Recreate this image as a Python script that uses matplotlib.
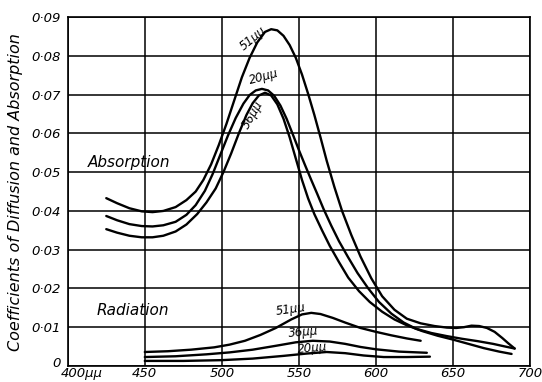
import numpy as np
import matplotlib
matplotlib.use("Agg")
import matplotlib.pyplot as plt
import matplotlib.transforms as mtransforms

# absorption curves (wavelength in mu-mu, coefficient)
abs51_x = [425, 432, 440, 448, 455, 462, 470, 477, 483, 488, 493, 498, 503, 508, 513, 518,
           523, 528, 532, 536, 540, 544, 548, 552, 556, 560, 564, 568, 573, 578, 584, 590,
           597, 604, 612, 620, 629, 638, 646, 652, 657, 662, 667, 672, 677, 682, 686, 690]
abs51_y = [0.0433, 0.0420, 0.0407, 0.0399, 0.0397, 0.0400, 0.0410, 0.0428, 0.0450, 0.0480,
           0.0520, 0.0570, 0.0625, 0.0685, 0.0745, 0.0795, 0.0835, 0.0862, 0.0869, 0.0866,
           0.0852, 0.0828, 0.0795, 0.0752, 0.0702, 0.0648, 0.0590, 0.0530, 0.0462, 0.0400,
           0.0338, 0.0282, 0.0226, 0.0180, 0.0145, 0.0122, 0.0110, 0.0103, 0.0099, 0.0098,
           0.0100, 0.0104, 0.0103, 0.0098, 0.0088, 0.0072, 0.0058, 0.0045]

abs20_x = [425, 432, 440, 448, 455, 462, 470, 477, 483, 489, 494, 499, 504, 509, 514, 518,
           522, 526, 530, 534, 538, 542, 546, 550, 554, 558, 562, 566, 571, 576, 582, 588,
           595, 602, 610, 618, 626, 636, 646, 656, 666, 676, 684, 690]
abs20_y = [0.0387, 0.0376, 0.0366, 0.0361, 0.0360, 0.0363, 0.0372, 0.0390, 0.0415, 0.0452,
           0.0495, 0.0545, 0.0595, 0.0640, 0.0677, 0.0699, 0.0711, 0.0715, 0.0711, 0.0697,
           0.0672, 0.0638, 0.0598, 0.0557, 0.0518, 0.0480, 0.0443, 0.0405, 0.0362, 0.0322,
           0.0280, 0.0240, 0.0200, 0.0165, 0.0135, 0.0112, 0.0096, 0.0085, 0.0077, 0.0070,
           0.0064, 0.0057, 0.0050, 0.0045]

abs36_x = [425, 432, 440, 448, 455, 462, 470, 477, 484, 490, 496, 501, 506, 511, 516, 520,
           524, 528, 532, 536, 540, 544, 548, 552, 556, 560, 565, 570, 576, 582, 589, 596,
           604, 612, 620, 630, 640, 650, 660, 670, 680, 688]
abs36_y = [0.0353, 0.0344, 0.0336, 0.0332, 0.0332, 0.0336, 0.0347, 0.0365, 0.0392, 0.0422,
           0.0458, 0.0500, 0.0548, 0.0600, 0.0648, 0.0678, 0.0698, 0.0705, 0.0698, 0.0675,
           0.0638, 0.0590, 0.0535, 0.0480, 0.0432, 0.0392, 0.0350, 0.0310, 0.0268, 0.0228,
           0.0193, 0.0165, 0.0140, 0.0120, 0.0105, 0.0090, 0.0078, 0.0068, 0.0057, 0.0046,
           0.0037, 0.0031]

# radiation curves
rad51_x = [450, 465, 480, 495, 505, 515, 525, 535, 545, 552, 558, 564, 572, 580, 590, 600,
           610, 620, 629]
rad51_y = [0.0036, 0.0038, 0.0042, 0.0048, 0.0055, 0.0065, 0.0080, 0.0098, 0.0120, 0.0133,
           0.0137, 0.0134, 0.0124, 0.0112, 0.0098, 0.0088, 0.0079, 0.0071, 0.0065]
rad36_x = [450, 470, 490, 505, 520, 535, 548, 559, 570, 580, 590, 600, 615, 633]
rad36_y = [0.0023, 0.0025, 0.0030, 0.0035, 0.0042, 0.0052, 0.0061, 0.0065, 0.0063, 0.0057,
           0.0049, 0.0043, 0.0037, 0.0034]
rad20_x = [450, 475, 500, 520, 540, 555, 568, 580, 592, 605, 620, 635]
rad20_y = [0.0013, 0.0013, 0.0015, 0.0019, 0.0026, 0.0032, 0.0036, 0.0033, 0.0027, 0.0023,
           0.0023, 0.0024]

x_ticks = [400, 450, 500, 550, 600, 650, 700]
x_labels = ["400\u03bc\u03bc", "450", "500", "550", "600", "650", "700"]
y_ticks = [0, 0.01, 0.02, 0.03, 0.04, 0.05, 0.06, 0.07, 0.08, 0.09]
y_labels = ["0"] + ["0\u00b70%d" % i for i in range(1, 10)]

fig = plt.figure(figsize=(5.42, 3.82), dpi=100)
ax = fig.add_axes([0.125, 0.042, 0.853, 0.913])

lw = 1.7
for xs, ys in [(abs51_x, abs51_y), (abs20_x, abs20_y), (abs36_x, abs36_y),
               (rad51_x, rad51_y), (rad36_x, rad36_y), (rad20_x, rad20_y)]:
    ax.plot(xs, ys, color="black", lw=lw, solid_capstyle="round", solid_joinstyle="round")

ax.set_xlim(400, 700)
ax.set_ylim(0, 0.09)
ax.set_xticks(x_ticks)
ax.set_xticklabels(x_labels, style="italic", fontsize=9.5)
ax.set_yticks(y_ticks)
ax.set_yticklabels(y_labels, style="italic", fontsize=9.5)
ax.tick_params(axis="x", length=0, pad=1)
ax.tick_params(axis="y", length=0, pad=5)
ax.grid(True, color="black", lw=1.1)
for s in ax.spines.values():
    s.set_linewidth(1.2)

# the first x label sits a little right of its grid line, the "0" a little higher
first = ax.get_xticklabels()[0]
first.set_transform(first.get_transform() +
                    mtransforms.ScaledTranslation(0.14, 0, fig.dpi_scale_trans))
zero = ax.get_yticklabels()[0]
zero.set_transform(zero.get_transform() +
                   mtransforms.ScaledTranslation(0, 0.04, fig.dpi_scale_trans))

ax.set_ylabel("Coefficients of Diffusion and Absorption", style="italic", fontsize=11.5,
              labelpad=6)

# curve labels
txt = dict(style="italic", fontsize=8.5, ha="center", va="center")
ax.text(520, 0.0845, "51\u03bc\u03bc", rotation=40, **txt)
ax.text(527, 0.0745, "20\u03bc\u03bc", rotation=15, **txt)
ax.text(520, 0.0648, "36\u03bc\u03bc", rotation=60, **txt)
ax.text(545, 0.0146, "51\u03bc\u03bc", rotation=8, **txt)
ax.text(553, 0.0086, "36\u03bc\u03bc", rotation=5, **txt)
ax.text(559, 0.0045, "20\u03bc\u03bc", rotation=5, **txt)

ax.text(440, 0.0525, "Absorption", style="italic", fontsize=11, ha="center", va="center")
ax.text(442, 0.0142, "Radiation", style="italic", fontsize=11, ha="center", va="center")

fig.savefig("out.png", dpi=100)
